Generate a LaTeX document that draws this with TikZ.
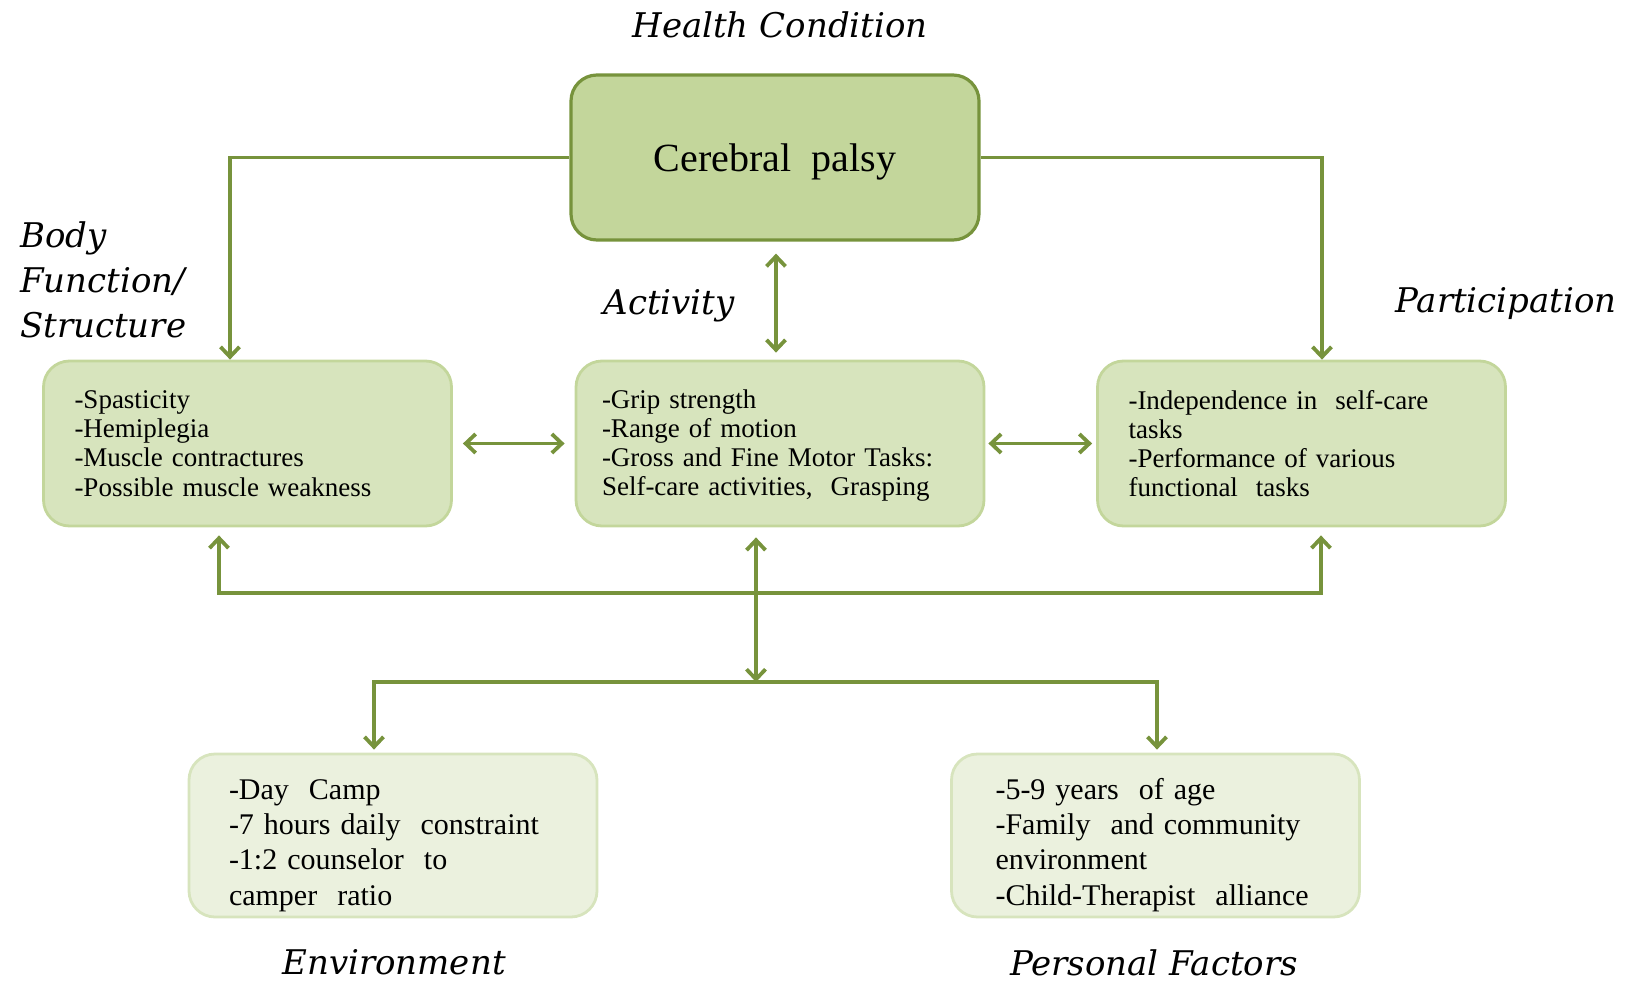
\documentclass[tikz,border=0pt]{standalone}
\usepackage{fontspec}
\setmainfont{Liberation Serif}
\newfontfamily\icflabel{DejaVu Serif}
\usepackage{tikz}
\usetikzlibrary{arrows.meta, positioning, calc}
\definecolor{ICFDark}{RGB}{119, 147, 60}
\definecolor{ICFTopFill}{RGB}{195, 214, 155}
\definecolor{ICFMidFill}{RGB}{215, 228, 189}
\definecolor{ICFMidLine}{RGB}{195, 214, 155}
\definecolor{ICFLowFill}{RGB}{235, 241, 222}
\definecolor{ICFLowLine}{RGB}{215, 228, 189}

\tikzset{
  icfbox/.style={rounded corners=13pt, align=left, inner ysep=0pt,
    font=\fontsize{13.5}{14.6}\selectfont},
  midbox/.style={icfbox, fill=ICFMidFill, draw=ICFMidLine, line width=1.4pt,
    minimum height=82.5pt},
  lowbox/.style={icfbox, fill=ICFLowFill, draw=ICFLowLine, line width=1.4pt,
    minimum height=81.5pt, text height=20pt, font=\fontsize{15}{17.6}\selectfont},
  tag/.style={font=\icflabel\itshape\fontsize{17}{22.5}\selectfont, align=left},
  link/.style={ICFDark, line width=1.9pt,
    arrows={-}, >={Straight Barb[length=5pt, width=9.5pt, line width=1.9pt]}}
}

\begin{document}
\begin{tikzpicture}[x=0.5pt,y=-0.5pt]
  \path[use as bounding box] (0,0) rectangle (1633,985);

  % Health condition
  \node[tag] (hclabel) at (780,25) {Health Condition};
  \node[fill=ICFTopFill, draw=ICFDark, line width=1.6pt, rounded corners=13pt,
    minimum width=204pt, minimum height=82.5pt, text height=18.5pt,
    font=\fontsize{20}{24}\selectfont] (cp) at (775,157.5) {Cerebral\ \ palsy};

  % Middle row
  \node[midbox, text width=173pt, inner xsep=15.5pt] (bf) at (247.5,443.5)
    {-Spasticity\\-Hemiplegia\\-Muscle contractures\\-Possible muscle weakness};
  \node[midbox, text width=178pt, inner xsep=13pt, text height=11.5pt] (act) at (780,443.5)
    {-Grip strength\\-Range of motion\\-Gross and Fine Motor Tasks:\\Self-care activities,\ \ Grasping};
  \node[midbox, text width=173pt, inner xsep=15.5pt] (pa) at (1301.5,443.5)
    {-Independence in\ \ self-care\\tasks\\-Performance of various\\functional\ \ tasks};

  % Bottom row
  \node[lowbox, text width=164pt, inner xsep=20pt] (env) at (393,835.5)
    {-Day\ \ Camp\\-7 hours\ daily\ \ constraint\\-1:2 counselor\ \ to\\camper\ \ ratio};
  \node[lowbox, text width=160pt, inner xsep=22pt] (pf) at (1155.5,835.5)
    {-5-9 years\ \ of age\\-Family\ \ and community\\environment\\-Child-Therapist\ \ alliance};

  % Labels
  \node[tag, anchor=west] (bflabel) at (13,280) {Body\\Function/\\Structure};
  \node[tag] (actlabel) at (669,306) {Activity};
  \node[tag] (palabel) at (1506,304) {Participation};
  \node[tag] (envlabel) at (394,962) {Environment};
  \node[tag] (pflabel) at (1154,963) {Personal Factors};

  % Connectors
  \coordinate (hub) at (756,593);
  \coordinate (split) at (756,682);
  \draw[link, ->] (cp.west) -| ([xshift=-8.75pt]bf.north);
  \draw[link, ->] (cp.east) -| ([xshift=10.25pt]pa.north);
  \draw[link, <->, shorten <=6pt, shorten >=3.5pt]
    ([xshift=0.5pt]cp.south) -- ([xshift=0.5pt]cp.south |- act.north);
  \draw[link, <->, shorten <=5pt, shorten >=5pt] (bf.east) -- (act.west);
  \draw[link, <->, shorten <=1.5pt, shorten >=2pt] (act.east) -- (pa.west);
  \draw[link, <->] ([xshift=-14.25pt, yshift=-4pt]bf.south) |- (hub)
    -| ([xshift=9.75pt, yshift=-4pt]pa.south);
  \draw[link, <->] ([yshift=-5pt]act.south -| hub) -- (split);
  \draw[link, ->] (split) -| ([xshift=-9.5pt, yshift=1.5pt]env.north);
  \draw[link, ->] (split) -| ([xshift=0.75pt, yshift=1.5pt]pf.north);
\end{tikzpicture}
\end{document}
